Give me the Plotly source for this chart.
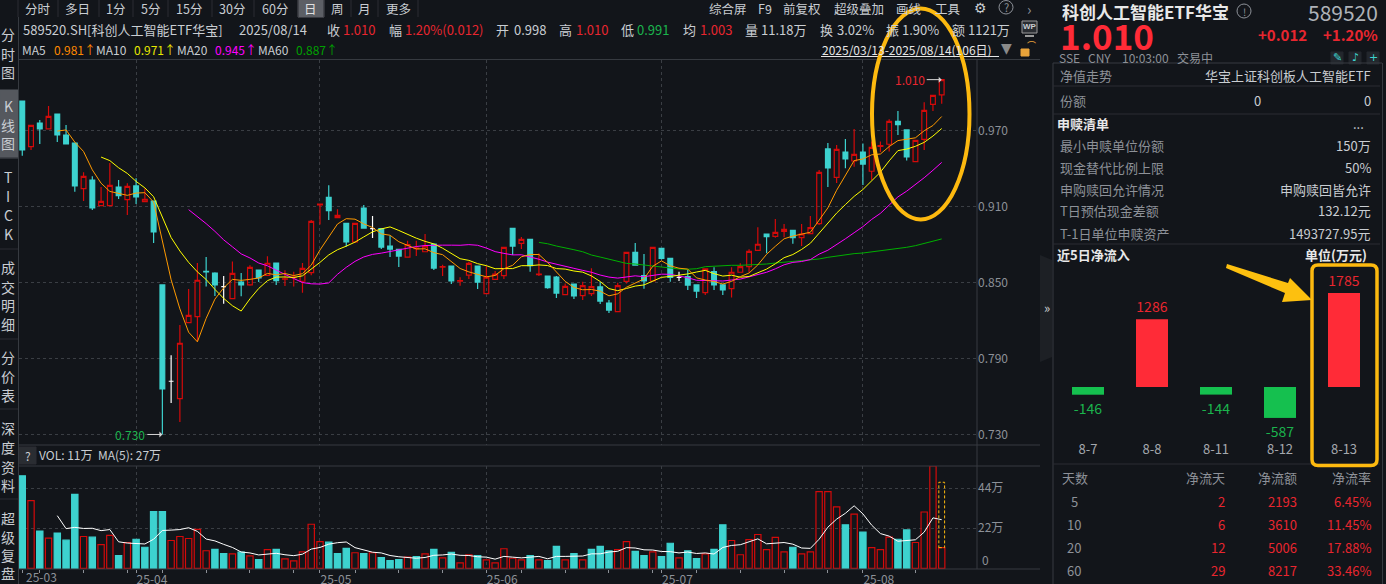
import plotly.graph_objects as go

W = 1386
H = 584
CJK = "Noto Sans CJK SC"
BG = "#12151a"
GRAY = "#8d9198"
LIGHT = "#c9cdd2"
RED = "#e8262f"
GREEN = "#1bb34d"
TEAL = "#3dd2cf"
CANDLE_RED = "#d40a0a"
YELLOW = "#fdb90f"
LINE = "#363a40"

# daily candles, 2025/03/13 - 2025/08/14
opens = [.9931, .9571, .9758, .9711, .9829, .9663, .9600, .9240, .9308, .9106,
         .9106, .9253, .9153, .9261, .9137, .9142, .8480, .7720, .7583, .8182,
         .8230, .8587, .8574, .8467, .8372, .8503, .8480, .8598, .8556, .8653,
         .8525, .8538, .8509, .8577, .9111, .9171, .9011, .8966, .8819, .9087,
         .8924, .8924, .8787, .8761, .8700, .8767, .8742, .8803, .8620, .8629,
         .8509, .8558, .8629, .8411, .8524, .8553, .8926, .8808, .8840, .8561,
         .8550, .8542, .8403, .8487, .8395, .8411, .8464, .8337, .8269, .8508,
         .8737, .8553, .8511, .8769, .8690, .8540, .8545, .8480, .8419, .8585,
         .8480, .8451, .8580, .8624, .8753, .8882, .8864, .8903, .8911, .8853,
         .8885, .8964, .9553, .9329, .9529, .9458, .9529, .9377, .9574, .9590,
         .9771, .9703, .9453, .9629, .9905, .9980]
highs = [.9931, .9739, .9782, .9892, .9829, .9742, .9600, .9369, .9337, .9253,
         .9442, .9308, .9282, .9321, .9242, .9142, .8480, .7925, .8164, .8448,
         .8653, .8701, .8580, .8551, .8664, .8574, .8635, .8598, .8706, .8653,
         .8595, .8585, .8653, .8993, .9119, .9266, .9077, .8966, .8966, .9111,
         .9024, .8924, .8869, .8761, .8829, .8829, .8882, .8803, .8640, .8629,
         .8540, .8663, .8629, .8627, .8590, .8777, .8926, .8858, .8840, .8729,
         .8550, .8550, .8492, .8492, .8506, .8611, .8503, .8361, .8498, .8737,
         .8811, .8724, .8782, .8769, .8690, .8585, .8598, .8480, .8606, .8619,
         .8488, .8619, .8651, .8761, .8935, .8882, .9000, .8961, .8911, .8961,
         .9024, .9387, .9600, .9584, .9632, .9711, .9597, .9611, .9611, .9787,
         .9853, .9703, .9621, .9921, .9976, 1.010]
lows = [.9500, .9545, .9592, .9711, .9608, .9592, .9216, .9142, .9071, .9106,
        .9106, .9158, .9032, .9119, .9137, .8811, .7300, .7549, .7399, .8182,
        .8033, .8467, .8393, .8332, .8372, .8390, .8474, .8503, .8556, .8480,
        .8472, .8467, .8419, .8556, .8956, .8993, .9011, .8782, .8810, .8929,
        .8850, .8763, .8700, .8621, .8695, .8708, .8742, .8598, .8550, .8487,
        .8474, .8527, .8448, .8411, .8524, .8527, .8716, .8763, .8585, .8550,
        .8450, .8377, .8403, .8369, .8361, .8393, .8329, .8258, .8269, .8492,
        .8637, .8450, .8511, .8680, .8506, .8511, .8440, .8377, .8401, .8440,
        .8401, .8380, .8580, .8580, .8753, .8730, .8853, .8856, .8806, .8787,
        .8885, .8953, .9253, .9284, .9400, .9413, .9269, .9308, .9529, .9532,
        .9663, .9461, .9453, .9545, .9853, .9910]
closes = [.9545, .9739, .9711, .9810, .9663, .9592, .9261, .9337, .9087, .9140,
          .9266, .9185, .9258, .9174, .9156, .8898, .7659, .7720, .8020, .8240,
          .8517, .8583, .8480, .8467, .8572, .8480, .8619, .8535, .8651, .8514,
          .8529, .8542, .8611, .8982, .9117, .9066, .9029, .8819, .8966, .8929,
          .8924, .8779, .8763, .8708, .8798, .8771, .8787, .8613, .8624, .8511,
          .8515, .8650, .8503, .8542, .8566, .8777, .8787, .8840, .8632, .8566,
          .8458, .8416, .8469, .8393, .8474, .8466, .8353, .8282, .8474, .8737,
          .8637, .8511, .8777, .8690, .8540, .8540, .8479, .8432, .8606, .8480,
          .8440, .8580, .8624, .8745, .8801, .8861, .8895, .8919, .8853, .8882,
          .8932, .9369, .9403, .9550, .9474, .9511, .9434, .9566, .9580, .9771,
          .9745, .9490, .9621, .9858, .9976, 1.010]

ma5 = [None] * 4 + [
    .9694, .9703, .9607, .9533, .9388, .9283, .9218, .9203, .9187, .9205,
    .9208, .9134, .8829, .8521, .8291, .8107, .8031, .8216, .8368, .8457,
    .8524, .8516, .8524, .8535, .8571, .8560, .8570, .8554, .8569, .8636,
    .8756, .8864, .8961, .9003, .8999, .8962, .8933, .8883, .8872, .8821,
    .8794, .8764, .8765, .8735, .8719, .8661, .8610, .8583, .8561, .8544,
    .8555, .8608, .8635, .8702, .8720, .8720, .8657, .8582, .8508, .8460,
    .8442, .8444, .8431, .8394, .8410, .8462, .8497, .8528, .8627, .8670,
    .8631, .8612, .8605, .8536, .8519, .8507, .8487, .8508, .8546, .8574,
    .8638, .8722, .8785, .8844, .8866, .8882, .8896, .8991, .9088, .9227,
    .9346, .9461, .9474, .9507, .9513, .9572, .9619, .9630, .9641, .9697,
    .9738, .9809]
ma10 = [None] * 9 + [
    .9489, .9461, .9405, .9360, .9297, .9246, .9176, .9016, .8854, .8748,
    .8658, .8583, .8523, .8445, .8374, .8316, .8274, .8370, .8452, .8514,
    .8542, .8543, .8539, .8552, .8604, .8658, .8717, .8758, .8786, .8818,
    .8859, .8899, .8922, .8938, .8910, .8878, .8849, .8824, .8804, .8770,
    .8728, .8687, .8674, .8648, .8632, .8608, .8609, .8609, .8632, .8632,
    .8638, .8633, .8609, .8605, .8590, .8581, .8551, .8507, .8451, .8435,
    .8452, .8471, .8480, .8511, .8540, .8547, .8555, .8567, .8582, .8595,
    .8569, .8550, .8557, .8541, .8547, .8573, .8605, .8647, .8695, .8720,
    .8760, .8809, .8888, .8966, .9047, .9114, .9179, .9233, .9298, .9370,
    .9459, .9540, .9552, .9574, .9605, .9655, .9714]
ma20 = [None] * 19 + [
    .9074, .9022, .8964, .8903, .8836, .8781, .8725, .8693, .8653, .8631,
    .8600, .8563, .8531, .8499, .8489, .8487, .8496, .8564, .8619, .8666,
    .8701, .8721, .8731, .8745, .8757, .8768, .8783, .8791, .8795, .8794,
    .8794, .8793, .8798, .8793, .8771, .8743, .8729, .8717, .8718, .8701,
    .8683, .8660, .8642, .8627, .8611, .8595, .8580, .8558, .8542, .8534,
    .8545, .8552, .8545, .8558, .8565, .8564, .8553, .8537, .8517, .8515,
    .8511, .8511, .8519, .8526, .8544, .8560, .8580, .8607, .8639, .8658,
    .8665, .8680, .8723, .8754, .8797, .8844, .8892, .8940, .8997, .9045,
    .9110, .9175, .9220, .9270, .9326, .9385, .9447]
ma60 = [None] * 59 + [
    .8816, .8805, .8787, .8774, .8758, .8742, .8716, .8700, .8682, .8669,
    .8650, .8645, .8637, .8627, .8619, .8611, .8606, .8604, .8608, .8624,
    .8627, .8635, .8635, .8635, .8638, .8640, .8645, .8653, .8659, .8666,
    .8669, .8674, .8685, .8698, .8708, .8722, .8727, .8732, .8740, .8748,
    .8758, .8766, .8777, .8790, .8806, .8822, .8843, .8869]

# volume in 万
volumes = [50.7, 37.1, 20.5, 16.6, 19.4, 15.5, 40.6, 17.5, 17.1, 13.0,
           18.1, 7.1, 14.2, 16.0, 11.6, 31.1, 31.1, 15.3, 17.5, 16.4,
           21.4, 9.7, 10.4, 8.2, 8.0, 8.9, 6.9, 4.8, 10.3, 10.4,
           5.2, 4.1, 9.1, 24.2, 14.7, 14.4, 8.2, 11.0, 8.6, 8.2,
           8.6, 6.0, 4.3, 4.8, 6.2, 6.5, 8.0, 10.4, 5.8, 8.8,
           3.0, 7.5, 7.1, 4.7, 3.0, 10.8, 5.6, 4.7, 7.1, 4.7,
           4.3, 12.1, 4.7, 8.2, 4.7, 10.4, 12.1, 9.7, 10.3, 14.7,
           9.3, 7.1, 9.1, 6.5, 13.8, 5.8, 9.7, 5.4, 8.0, 10.4,
           23.9, 15.3, 7.5, 15.8, 18.6, 10.3, 17.0, 9.1, 11.6, 8.0,
           9.1, 42.1, 42.1, 33.7, 23.9, 29.8, 19.9, 11.4, 10.3, 17.1,
           16.0, 21.1, 14.2, 30.9, 56.1, 11.4]
# 1 = red hollow bar, 0 = teal filled bar
volume_up = [0, 1, 0, 1, 0, 0, 0, 1, 0, 1, 1, 0, 1, 0, 0, 0, 0, 1, 1, 1,
             1, 1, 0, 0, 1, 0, 1, 0, 1, 0, 1, 1, 1, 1, 1, 0, 0, 0, 1, 0,
             1, 0, 0, 0, 1, 0, 1, 0, 1, 0, 1, 1, 0, 1, 1, 1, 1, 1, 0, 1,
             0, 0, 1, 0, 1, 0, 0, 0, 1, 1, 0, 0, 1, 0, 0, 1, 0, 0, 1, 0,
             0, 1, 1, 1, 1, 1, 1, 1, 0, 1, 1, 1, 1, 1, 0, 1, 0, 1, 1, 1,
             0, 0, 1, 1, 1, 1]
volume_ma5 = [None] * 4 + [
    28.9, 21.8, 22.5, 21.9, 22.0, 20.7, 21.3, 14.6, 13.9, 13.7,
    13.4, 16.0, 20.8, 21.0, 21.3, 22.3, 20.3, 16.1, 15.1, 13.2,
    11.5, 9.0, 8.5, 7.4, 7.8, 8.3, 7.5, 7.0, 7.8, 10.6,
    11.5, 13.3, 14.1, 14.5, 11.4, 10.1, 8.9, 8.5, 7.1, 6.4,
    6.0, 5.6, 6.0, 7.2, 7.4, 7.9, 7.2, 7.1, 6.4, 6.2,
    5.1, 6.6, 6.2, 5.8, 6.2, 6.6, 5.3, 6.6, 6.6, 6.8,
    6.8, 8.0, 8.0, 9.0, 9.4, 11.4, 11.2, 10.2, 10.1, 9.3,
    9.2, 8.5, 9.0, 8.2, 8.5, 7.9, 11.5, 12.6, 13.0, 14.6,
    16.2, 13.5, 13.8, 14.2, 13.3, 11.2, 11.0, 16.0, 22.6, 27.0,
    30.2, 34.3, 29.9, 23.7, 19.1, 17.7, 14.9, 15.2, 15.7, 19.9,
    27.7, 26.7]
predicted_volume = 47.2

month_ticks = [13, 34, 53, 73, 96]
month_labels = ["25-04", "25-05", "25-06", "25-07", "25-08"]
week_ticks = [0, 2, 7, 12, 16, 21, 26, 31, 38, 43, 48, 57, 62, 67, 72, 77, 82, 87, 92, 102]

flow_days = ["8-7", "8-8", "8-11", "8-12", "8-13"]
flow_values = [-146, 1286, -144, -587, 1785]

table_days = ["5", "10", "20", "60"]
table_net_days = ["2", "6", "12", "29"]
table_amounts = ["2193", "3610", "5006", "8217"]
table_rates = ["6.45%", "11.45%", "17.88%", "33.46%"]

index = list(range(len(closes)))
flat = [i for i in index if opens[i] == closes[i]]
solid = [i for i in index if opens[i] != closes[i]]


def pick(values, idx):
    return [values[i] for i in idx]


def px(x):
    return x / W


def py(y):
    return 1 - y / H


notes = []
shapes = []


def text(x, y, s, color=LIGHT, size=13, anchor="left", bold=False, font=CJK):
    if bold:
        s = "<b>" + s + "</b>"
    # CJK line box sits a little low, pull it up
    notes.append(dict(x=px(x), y=py(y - 1), xref="paper", yref="paper", text=s, showarrow=False,
                      xanchor=anchor, yanchor="middle", borderpad=0,
                      font=dict(family=font, size=size, color=color)))


def hline(x0, x1, y, color=LINE, width=1):
    shapes.append(dict(type="line", xref="paper", yref="paper", x0=px(x0), x1=px(x1), y0=py(y), y1=py(y),
                       line=dict(color=color, width=width)))


def vline(x, y0, y1, color=LINE, width=1):
    shapes.append(dict(type="line", xref="paper", yref="paper", x0=px(x), x1=px(x), y0=py(y0), y1=py(y1),
                       line=dict(color=color, width=width)))


def box(x0, y0, x1, y1, fill, line=None):
    shapes.append(dict(type="rect", xref="paper", yref="paper", x0=px(x0), x1=px(x1), y0=py(y0), y1=py(y1),
                       fillcolor=fill, line=dict(color=line or fill, width=1), layer="below"))


fig = go.Figure()

# candles
fig.add_trace(go.Candlestick(
    x=solid, open=pick(opens, solid), high=pick(highs, solid), low=pick(lows, solid), close=pick(closes, solid),
    increasing=dict(line=dict(color=CANDLE_RED, width=1.2), fillcolor="rgba(0,0,0,0)"),
    decreasing=dict(line=dict(color=TEAL, width=1.2), fillcolor=TEAL),
    whiskerwidth=0, showlegend=False))
fig.add_trace(go.Candlestick(
    x=flat, open=pick(opens, flat), high=pick(highs, flat), low=pick(lows, flat), close=pick(closes, flat),
    increasing=dict(line=dict(color="#ffffff", width=1.2)),
    decreasing=dict(line=dict(color="#ffffff", width=1.2)),
    whiskerwidth=0, showlegend=False))

for values, color in [(ma60, "#00b000"), (ma20, "#ff00ff"), (ma10, "#ffff00"), (ma5, "#ff9a00")]:
    fig.add_trace(go.Scatter(x=index, y=values, mode="lines", line=dict(color=color, width=1), showlegend=False))

# volume
fig.add_trace(go.Bar(
    x=index, y=volumes, width=0.72, xaxis="x2", yaxis="y2", showlegend=False,
    marker=dict(color=["rgba(0,0,0,0)" if u else TEAL for u in volume_up],
                line=dict(color=[CANDLE_RED if u else TEAL for u in volume_up], width=1.2))))
fig.add_trace(go.Scatter(x=index, y=volume_ma5, mode="lines", xaxis="x2", yaxis="y2",
                         line=dict(color="#ffffff", width=1), showlegend=False))

# net inflow bars
fig.add_trace(go.Bar(
    x=flow_days, y=flow_values, width=0.5, xaxis="x3", yaxis="y3", showlegend=False,
    marker=dict(color=["#ff2b37" if v > 0 else "#15c04f" for v in flow_values], line_width=0),
    text=[str(v) for v in flow_values], textposition="outside", cliponaxis=False,
    textfont=dict(family=CJK, size=14, color=[RED if v > 0 else GREEN for v in flow_values])))

# predicted volume, dashed box on the last bar
shapes.append(dict(type="rect", xref="x2", yref="y2", x0=index[-1] - 0.33, x1=index[-1] + 0.33,
                   y0=volumes[-1], y1=predicted_volume, line=dict(color=YELLOW, width=1, dash="3px,2px")))

# price markers
notes.append(dict(x=16, y=min(lows), xref="x", yref="y", text="0.730", showarrow=True, ax=-15, ay=0,
                  arrowcolor="#d5d5d5", arrowwidth=1, arrowhead=1, arrowsize=1, xanchor="right", standoff=0,
                  font=dict(family=CJK, size=12, color=GREEN)))
notes.append(dict(x=105, y=max(highs), xref="x", yref="y", text="1.010", showarrow=True, ax=-15, ay=0,
                  arrowcolor="#d5d5d5", arrowwidth=1, arrowhead=1, arrowsize=1, xanchor="right", standoff=0,
                  font=dict(family=CJK, size=12, color=RED)))

# frame lines
hline(18, 1040, 59.5)
hline(18, 1040, 445)
hline(18, 1040, 466)
hline(18, 1040, 569)
vline(977, 60, 569)
vline(18.5, 17, 584)
vline(1053, 63, 584)
vline(1382.5, 63, 584)
hline(1053, 1382, 63)

# toolbar
tabs = [("分时", 37.5), ("多日", 77.5), ("1分", 115), ("5分", 150.5), ("15分", 189), ("30分", 232),
        ("60分", 275), ("日", 310.5), ("周", 337), ("月", 364), ("更多", 398)]
box(298, 0, 324, 17, "#5c5f65")
for name, x in tabs:
    text(x, 9.5, name, size=12.5, anchor="center", color="#e0e0e0" if name == "日" else LIGHT)
for x in [18, 58, 99, 133, 168, 212, 254, 298, 324, 351, 378, 418]:
    vline(x, 0, 17, color="#2a2d32")
tools = [("综合屏", 728), ("F9", 765), ("前复权", 802), ("超级叠加", 858.5), ("画线", 909), ("工具", 948)]
for name, x in tools:
    text(x, 9.5, name, size=12.5, anchor="center")
text(980, 9, "⚙", size=14, anchor="center", font="DejaVu Sans")
text(1006, 8.5, "?", size=11, anchor="center", color=GRAY)
shapes.append(dict(type="circle", xref="paper", yref="paper", x0=px(999), x1=px(1013), y0=py(14), y1=py(0.5),
                   line=dict(color=GRAY, width=1)))
text(1029, 9.5, "›", size=15, anchor="center", color=GRAY)

# quote row
text(22, 30, "589520.SH[科创人工智能ETF华宝]")
text(238, 30, "2025/08/14")
quote = [("收", 326, LIGHT), ("1.010", 342, RED), ("幅", 388, LIGHT), ("1.20%(0.012)", 404, RED),
         ("开", 495, LIGHT), ("0.998", 513, LIGHT), ("高", 558, LIGHT), ("1.010", 575, RED),
         ("低", 620, LIGHT), ("0.991", 636, GREEN), ("均", 682, LIGHT), ("1.003", 699, RED),
         ("量", 744, LIGHT), ("11.18万", 760, LIGHT), ("换", 819, LIGHT), ("3.02%", 836, LIGHT),
         ("振", 885, LIGHT), ("1.90%", 901, LIGHT), ("额", 951, LIGHT), ("1121万", 967, LIGHT)]
for s, x, color in quote:
    text(x, 30, s, color=color)
box(1022, 21, 1037, 33, "#2a2d32", "#9a9a9a")
text(1029.5, 27.5, "WP", size=8, anchor="center", bold=True, font="Liberation Sans")
hline(1025, 1034, 36, color="#9a9a9a", width=2)

# MA row
ma_row = [("MA5", 21, LIGHT), ("0.981↑", 53, "#ff8a00"), ("MA10", 95, LIGHT), ("0.971↑", 133, "#e8e800"),
          ("MA20", 176, LIGHT), ("0.945↑", 214, "#ff00ff"), ("MA60", 257, LIGHT), ("0.887↑", 295, "#00a000")]
for s, x, color in ma_row:
    text(x, 50.5, s, color=color, size=12)
text(821, 50, "2025/03/13-2025/08/14(106日)", size=12, color="#e6e6e6")
hline(821, 999, 56.5, color="#e6e6e6")
text(1007, 49.5, "▼", size=14, anchor="center", color="#8a8a8a", font="DejaVu Sans")
box(1021, 49, 1029, 56, "#e8a33a")
text(1031, 46.5, "⌒", size=9, anchor="center", color="#e8a33a")

# left column
side_tabs = [("分", 35), ("时", 55), ("图", 73), ("K", 107), ("线", 126), ("图", 144),
             ("T", 178), ("I", 197), ("C", 216), ("K", 235),
             ("成", 268), ("交", 288), ("明", 306), ("细", 325),
             ("分", 358), ("价", 377), ("表", 396),
             ("深", 429), ("度", 448), ("资", 468), ("料", 486),
             ("超", 519), ("级", 538), ("复", 556), ("盘", 574)]
box(0, 90, 18, 158, "#55585e")
for s, y in side_tabs:
    text(8, y, s, size=14, anchor="center")
for y in [158, 249, 339, 409, 499]:
    hline(0, 18, y, color="#2a2d32")

# volume header
box(19, 447, 36, 464, "#2a2d32")
text(27.5, 456.5, "?", size=12, anchor="center")
text(38, 456, "VOL: 11万  MA(5): 27万", size=12)
text(25, 577, "25-03", size=12, color=GRAY)
text(981, 560, "0", size=12, color=GRAY)

# right panel header
text(1061, 12, "科创人工智能ETF华宝", size=17, bold=True, color="#e8e8e8")
shapes.append(dict(type="circle", xref="paper", yref="paper", x0=px(1237), x1=px(1251), y0=py(18), y1=py(4),
                   line=dict(color=GRAY, width=1)))
text(1244, 12, "!", size=10, anchor="center", color=GRAY)
text(1379, 13.5, "589520", size=21, anchor="right", color="#aeb2b8")
text(1059, 36, "1.010", size=35, bold=True, color="#ff2b37")
text(1308, 36, "+0.012", size=15, anchor="right", bold=True, color=RED)
text(1379, 36, "+1.20%", size=15, anchor="right", bold=True, color=RED)
text(1058, 59, "SSE", size=12, color=GRAY)
text(1087, 59, "CNY", size=12, color=GRAY)
text(1121, 59, "10:03:00", size=12, color=GRAY)
text(1176, 59, "交易中", size=12, color=GRAY)
for x, s in [(1337, "✎"), (1355, "♪"), (1373, "+")]:
    box(x - 6, 52, x + 6, 64, "#23272d")
    text(x, 58.5, s, size=11, anchor="center", color=TEAL, font="DejaVu Sans")

# right panel rows
text(1059, 77, "净值走势", color=GRAY)
text(1372, 77, "华宝上证科创板人工智能ETF", anchor="right")
hline(1053, 1380, 86, color="#2a2d32")
text(1059, 102, "份额", color=GRAY)
text(1262, 102, "0", anchor="right")
text(1372, 102, "0", anchor="right")
hline(1053, 1380, 114, color="#2a2d32")
text(1056, 125, "申赎清单", bold=True, color="#e8e8e8")
text(1358, 124, "...", anchor="center")
rows = [("最小申赎单位份额", "150万", 146), ("现金替代比例上限", "50%", 168), ("申购赎回允许情况", "申购赎回皆允许", 190),
        ("T日预估现金差额", "132.12元", 212), ("T-1日单位申赎资产", "1493727.95元", 234)]
for label, value, y in rows:
    text(1059, y, label, color=GRAY)
    text(1372, y, value, anchor="right")
hline(1053, 1380, 244, color="#2a2d32")
text(1056, 255, "近5日净流入", bold=True, color="#e8e8e8")
text(1368, 255, "单位(万元)", anchor="right", bold=True, color="#e8e8e8")
shapes.append(dict(type="path", xref="paper", yref="paper", fillcolor="#1d2025", line=dict(width=0), layer="below",
                   path="M %f %f L %f %f L %f %f L %f %f Z" % (px(1040), py(255), px(1052), py(260),
                                                              px(1052), py(357), px(1040), py(362))))
text(1047, 308, "»", size=13, anchor="center", color=LIGHT)

# net flow table
hline(1053, 1380, 464, color="#2a2d32")
text(1061, 478, "天数", color=GRAY)
text(1226, 478, "净流天", color=GRAY, anchor="right")
text(1298, 478, "净流额", color=GRAY, anchor="right")
text(1372, 478, "净流率", color=GRAY, anchor="right")
for k, y in enumerate([502, 525, 548, 571]):
    text(1074, y, table_days[k], color=GRAY, anchor="center")
    text(1226, y, table_net_days[k], color=RED, anchor="right")
    text(1298, y, table_amounts[k], color=RED, anchor="right")
    text(1372, y, table_rates[k], color=RED, anchor="right")

# yellow highlights
shapes.append(dict(type="circle", xref="paper", yref="paper", x0=px(872), x1=px(969.5), y0=py(219.5), y1=py(8.5),
                   line=dict(color=YELLOW, width=4)))
x0, x1, y0, y1, r = 1312, 1377, 265, 465.5, 6
round_path = "M %f %f L %f %f Q %f %f %f %f L %f %f Q %f %f %f %f L %f %f Q %f %f %f %f L %f %f Q %f %f %f %f Z" % (
    px(x0 + r), py(y0), px(x1 - r), py(y0), px(x1), py(y0), px(x1), py(y0 + r),
    px(x1), py(y1 - r), px(x1), py(y1), px(x1 - r), py(y1),
    px(x0 + r), py(y1), px(x0), py(y1), px(x0), py(y1 - r),
    px(x0), py(y0 + r), px(x0), py(y0), px(x0 + r), py(y0))
shapes.append(dict(type="path", xref="paper", yref="paper", path=round_path, line=dict(color=YELLOW, width=3.5)))
arrow = [(1227, 264), (1288, 283), (1290, 278), (1312, 300), (1282, 302), (1285, 293), (1226, 268)]
arrow_path = "M " + " L ".join("%f %f" % (px(a), py(b)) for a, b in arrow) + " Z"
shapes.append(dict(type="path", xref="paper", yref="paper", path=arrow_path, fillcolor="#fdc00f", line=dict(width=0)))

tick_font = dict(family=CJK, size=12, color=GRAY)
grid = dict(showgrid=True, gridcolor="#3a3e44", griddash="dot", gridwidth=1, zeroline=False, automargin=False)
x_range = [-0.43, 109.03]

fig.update_layout(
    width=W, height=H, margin=dict(l=0, r=0, t=0, b=0), paper_bgcolor=BG, plot_bgcolor=BG,
    showlegend=False, boxgap=0.22, boxmode="overlay", hovermode=False,
    annotations=notes, shapes=shapes,
    xaxis=dict(domain=[px(18.5), px(977)], range=x_range, anchor="y", tickvals=month_ticks, showticklabels=False,
               rangeslider=dict(visible=False), ticks="", **grid),
    yaxis=dict(domain=[py(445), py(60)], range=[.7217, 1.0255], anchor="x", side="right",
               tickvals=[.73, .79, .85, .91, .97], tickformat=".3f", tickfont=tick_font, ticks="", **grid),
    xaxis2=dict(domain=[px(18.5), px(977)], range=x_range, anchor="y2", tickvals=month_ticks, ticktext=month_labels,
                ticks="outside", ticklen=3, tickcolor=GRAY, tickfont=tick_font, ticklabelposition="outside right",
                minor=dict(tickvals=week_ticks, ticks="outside", ticklen=3, tickcolor=GRAY, showgrid=False), **grid),
    yaxis2=dict(domain=[py(569), py(466)], range=[-0.3, 56.1], anchor="x2", side="right",
                tickvals=[22, 44], ticktext=["22万", "44万"], tickfont=tick_font, ticks="", **grid),
    xaxis3=dict(domain=[px(1056), px(1376)], range=[-0.5, 4.5], type="category", anchor="y3", showgrid=False, zeroline=False,
                showline=False, ticks="", automargin=False, tickfont=dict(family=CJK, size=13, color="#a4a8ae")),
    yaxis3=dict(domain=[py(440), py(270)], range=[-1006, 2222], anchor="x3", visible=False, automargin=False),
)

fig.write_html("out.html", config={"displayModeBar": False},
               post_script="document.body.style.margin='0';document.body.style.overflow='hidden';")
